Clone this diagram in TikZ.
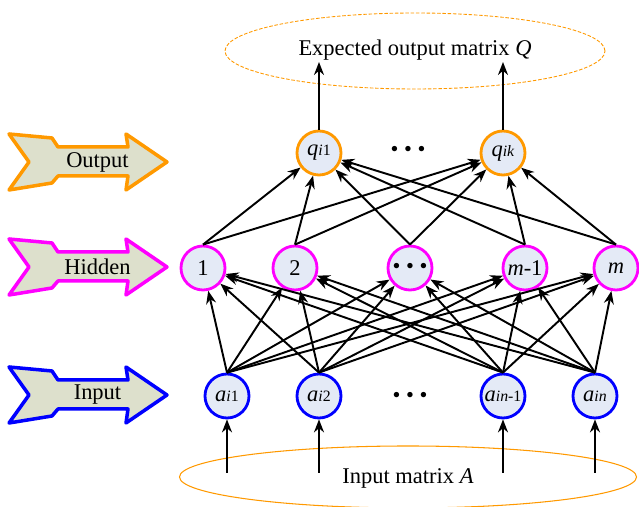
\documentclass[tikz,border=0pt]{standalone}
\usepackage{fontspec}
\setmainfont{Liberation Serif}
\usetikzlibrary{arrows.meta}

\definecolor{outorange}{RGB}{255,153,0}
\definecolor{hidmagenta}{RGB}{255,0,255}
\definecolor{inblue}{RGB}{0,0,255}
\definecolor{tagfill}{RGB}{221,224,204}
\definecolor{unitfill}{RGB}{228,234,246}

\newcommand{\idx}[1]{{\fontsize{9}{10}\selectfont #1}}
\newcommand{\threedots}{\textbullet\ \textbullet\ \textbullet}
\newcommand{\layertag}[4]{%
  \draw[tag, draw=#1] (0.18, #2+0.56) -- (1.04, #2+0.48) -- (1.16, #2+0.30)
    -- (2.56, #2+0.30) -- (2.52, #2+0.56) -- (3.34, #2) -- (2.52, #2-0.56)
    -- (2.56, #2-0.28) -- (1.16, #2-0.28) -- (1.04, #2-0.42) -- (0.18, #2-0.56)
    -- (0.58, #2) -- cycle;
  \node (#4) at (1.95, #2) {#3};}

\begin{document}
\begin{tikzpicture}[
    font=\fontsize{12.8}{15}\selectfont,
    tag/.style={fill=tagfill, line width=2pt, line join=round},
    unit/.style={circle, minimum size=0.88cm, inner sep=0pt, line width=1.6pt, fill=unitfill},
    inunit/.style={unit, draw=inblue},
    hidunit/.style={unit, draw=hidmagenta},
    outunit/.style={unit, draw=outorange},
    link/.style={-{Stealth[length=0.26cm,width=0.2cm]}, line width=1.1pt}]
      \useasboundingbox (0, 0) rectangle (12.78, 10.14);

      \layertag{outorange}{6.90}{Output}{tagout}
      \layertag{hidmagenta}{4.80}{Hidden}{taghid}
      \layertag{inblue}{2.24}{Input}{tagin}

      \draw[outorange, dashed, dash pattern=on 2pt off 1pt, line width=0.5pt] (8.30, 9.12) ellipse (3.80 and 0.76);
      \node (expq) at (8.30, 9.14) {Expected output matrix \textit{Q}};
      \draw[outorange, line width=0.6pt] (8.16, 0.60) ellipse (4.57 and 0.62);
      \node (inpa) at (8.16, 0.58) {Input matrix \textit{A}};

      \node[outunit] (q1) at (6.38, 7.08) {\textit{q}\idx{\textit{i}1}};
      \node[outunit] (q2) at (10.06, 7.08) {\textit{q}\idx{\textit{ik}}};
      \node (qdots) at (8.16, 7.12) {\threedots};

      \node[hidunit] (h1) at (4.06, 4.78) {1};
      \node[hidunit] (h2) at (5.90, 4.78) {2};
      \node[hidunit] (h3) at (8.20, 4.78) {\threedots};
      \node[hidunit] (h4) at (10.50, 4.78) {\textit{m}-1};
      \node[hidunit] (h5) at (12.32, 4.78) {\textit{m}};

      \node[inunit] (a1) at (4.54, 2.22) {\textit{a}\idx{\textit{i}1}};
      \node[inunit] (a2) at (6.38, 2.22) {\textit{a}\idx{\textit{i}2}};
      \node (adots) at (8.20, 2.20) {\threedots};
      \node[inunit] (a3) at (10.06, 2.22) {\textit{a}\idx{\textit{in}-1}};
      \node[inunit] (a4) at (11.90, 2.22) {\textit{a}\idx{\textit{in}}};

      % input matrix feeds the input layer
      \coordinate (s1) at (4.54, 0.68);
      \coordinate (s2) at (6.38, 0.68);
      \coordinate (s3) at (10.06, 0.68);
      \coordinate (s4) at (11.90, 0.68);
      \draw[link] (s1) -- (a1);
      \draw[link] (s2) -- (a2);
      \draw[link] (s3) -- (a3);
      \draw[link] (s4) -- (a4);

      % input -> hidden
      \draw[link] (a1.north) -- (h1);
      \draw[link] (a1.north) -- (h2);
      \draw[link] (a1.north) -- (h3);
      \draw[link] (a1.north) -- (h4);
      \draw[link] (a1.north) -- (h5);
      \draw[link] (a2.north) -- (h1);
      \draw[link] (a2.north) -- (h2);
      \draw[link] (a2.north) -- (h3);
      \draw[link] (a2.north) -- (h4);
      \draw[link] (a2.north) -- (h5);
      \draw[link] (a3.north) -- (h1);
      \draw[link] (a3.north) -- (h2);
      \draw[link] (a3.north) -- (h3);
      \draw[link] (a3.north) -- (h4);
      \draw[link] (a3.north) -- (h5);
      \draw[link] (a4.north) -- (h1);
      \draw[link] (a4.north) -- (h2);
      \draw[link] (a4.north) -- (h3);
      \draw[link] (a4.north) -- (h4);
      \draw[link] (a4.north) -- (h5);

      % hidden -> output
      \draw[link] (h1.north) -- (q1);
      \draw[link] (h1.north) -- (q2);
      \draw[link] (h2.north) -- (q1);
      \draw[link] (h2.north) -- (q2);
      \draw[link] (h3.north) -- (q1);
      \draw[link] (h3.north) -- (q2);
      \draw[link] (h4.north) -- (q1);
      \draw[link] (h4.north) -- (q2);
      \draw[link] (h5.north) -- (q1);
      \draw[link] (h5.north) -- (q2);

      % output layer gives the expected matrix
      \coordinate (t1) at (6.38, 8.90);
      \coordinate (t2) at (10.06, 8.90);
      \draw[link] (q1) -- (t1);
      \draw[link] (q2) -- (t2);
    \end{tikzpicture}
\end{document}
